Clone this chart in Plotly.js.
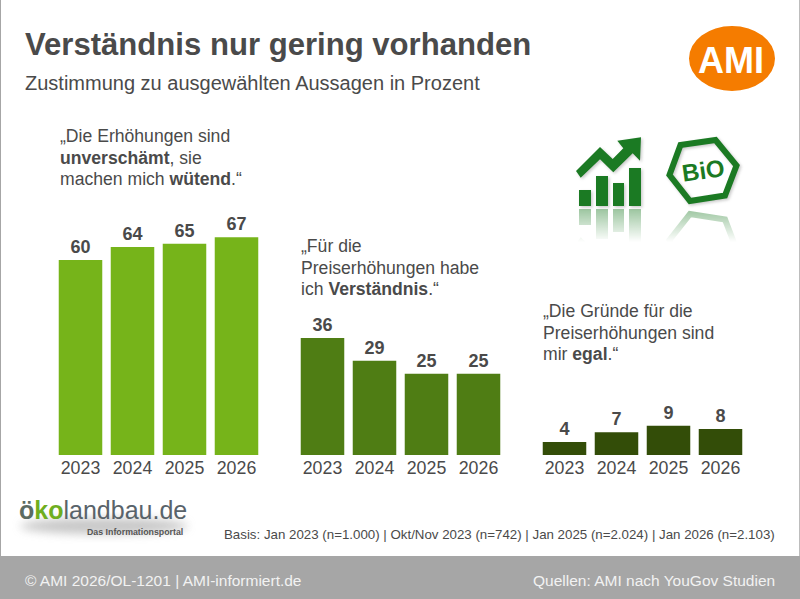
<!DOCTYPE html>
<html><head><meta charset="utf-8">
<script src="https://cdn.plot.ly/plotly-3.0.1.min.js"></script>
<style>html,body{margin:0;padding:0;background:#fff}#c{width:800px;height:599px}</style>
</head><body><div id="c"></div>
<script>
const years = ["2023","2024","2025","2026"];
const unverschaemt = [60,64,65,67];
const verstaendnis = [36,29,25,25];
const egal = [4,7,9,8];
const titleText = "Verständnis nur gering vorhanden";
const subtitleText = "Zustimmung zu ausgewählten Aussagen in Prozent";
const quote1 = ["„Die Erhöhungen sind","<b>unverschämt</b>, sie","machen mich <b>wütend</b>.“"];
const quote2 = ["„Für die","Preiserhöhungen habe","ich <b>Verständnis</b>.“"];
const quote3 = ["„Die Gründe für die","Preiserhöhungen sind","mir <b>egal</b>.“"];
const basisText = "Basis: Jan 2023 (n=1.000) | Okt/Nov 2023 (n=742) | Jan 2025 (n=2.024) | Jan 2026 (n=2.103)";
const footerLeft = "© AMI 2026/OL-1201 | AMI-informiert.de";
const footerRight = "Quellen: AMI nach YouGov Studien";

const W=800,H=599,F="Liberation Sans, Arial, sans-serif",INK="#4a4a4a";
const px=x=>x/W, py=y=>1-y/H;
const baseY=455, plotTop=200, perUnit=3.25;

function bars(vals,color,xa){return {type:"bar",x:years,y:vals,xaxis:xa,yaxis:"y",
  marker:{color:color,line:{width:0}},text:vals.map(String),textposition:"outside",cliponaxis:false,
  textfont:{family:F,size:18,color:INK,weight:700},hoverinfo:"x+y",showlegend:false};}
function xax(l,r){return {domain:[px(l),px(r)],anchor:"y",type:"category",showgrid:false,zeroline:false,
  showline:false,ticks:"",tickfont:{family:F,size:17.8,color:INK},automargin:false};}
function note(text,x,y,size,opt){return Object.assign({text:text,xref:"paper",yref:"paper",x:px(x),y:py(y),
  xanchor:"left",yanchor:"middle",align:"left",showarrow:false,font:{family:F,size:size,color:INK}},opt||{});}
function quote(lines,x,y){return lines.map((t,i)=>note(t,x,y+i*21.5,17.6));}

const iconBars='<path d="M579 190h12v16h-12zM596 176h12v30h-12zM613 183h11v23h-11zM629 168h12v38h-12z"/>'+
 '<path d="M576 171L600 147L612.7 159L623.3 148.3L617.3 140.7L641 137.3L640 160.7L632.7 153.3L613.3 172.3L600 159.3L580.7 177.7Z"/>'+
 '<path fill="none" stroke="#1b7a23" stroke-width="6" d="M680.5 145L715.5 140L736.5 165.5L725 195.5L690 201L669.5 175Z"/>';
const svg='<svg xmlns="http://www.w3.org/2000/svg" width="800" height="599" viewBox="0 0 800 599">'+
 '<defs><filter id="b" x="-30%" y="-30%" width="160%" height="160%"><feGaussianBlur stdDeviation="1.5"/></filter>'+
 '<filter id="b2" x="-30%" y="-100%" width="160%" height="300%"><feGaussianBlur stdDeviation="5"/></filter>'+
 '<linearGradient id="g" gradientUnits="userSpaceOnUse" x1="0" y1="210" x2="0" y2="242"><stop offset="0" stop-color="#fff" stop-opacity="0.42"/><stop offset="1" stop-color="#fff" stop-opacity="0"/></linearGradient>'+
 '<mask id="m"><rect x="540" y="208" width="260" height="40" fill="url(#g)"/></mask></defs>'+
 '<ellipse cx="104" cy="526" rx="84" ry="8" fill="#9a9a9a" opacity="0.55" filter="url(#b2)"/>'+
 '<g fill="#666" opacity="0.35" filter="url(#b)" transform="translate(1.5 1.5)">'+iconBars.replace('stroke="#1b7a23"','stroke="#666"')+'</g>'+
 '<g fill="#1b7a23">'+iconBars+'</g>'+
 '<g mask="url(#m)"><g fill="#1b7a23" transform="translate(0 415) scale(1 -1)">'+iconBars+'</g></g></svg>';

const layout={width:W,height:H,margin:{l:0,r:0,t:0,b:0},paper_bgcolor:"#fff",plot_bgcolor:"rgba(0,0,0,0)",
  bargap:0.163,showlegend:false,
  xaxis:xax(54.5,262.5),xaxis2:xax(296.5,504.5),xaxis3:xax(538.5,746.5),
  yaxis:{domain:[py(baseY),py(plotTop)],range:[0,(baseY-plotTop)/perUnit],visible:false,fixedrange:true},
  images:[{source:"data:image/svg+xml;utf8,"+encodeURIComponent(svg),xref:"paper",yref:"paper",x:0,y:1,sizex:1,sizey:1,
    xanchor:"left",yanchor:"top",sizing:"stretch",layer:"below"}],
  shapes:[
    {type:"rect",xref:"paper",yref:"paper",x0:0,x1:1,y0:0,y1:py(556),fillcolor:"#a6a6a6",line:{width:0},layer:"below"},
    {type:"rect",xref:"paper",yref:"paper",x0:0,x1:px(1),y0:py(556),y1:1,fillcolor:"#a6a6a6",line:{width:0},layer:"below"},
    {type:"rect",xref:"paper",yref:"paper",x0:px(799),x1:1,y0:py(556),y1:1,fillcolor:"#bdbdbd",line:{width:0},layer:"below"},
    {type:"circle",xref:"paper",yref:"paper",x0:px(689),x1:px(775),y0:py(91),y1:py(26),fillcolor:"#f57c00",line:{width:0},layer:"below"}
  ],
  annotations:[
    note(titleText,23,44,31.1,{font:{family:F,size:31.1,color:INK,weight:700}}),
    note(subtitleText,23,83,20),
    ...quote(quote1,58,136),
    ...quote(quote2,299,246),
    ...quote(quote3,541,311),
    note(basisText,222,534,13.3),
    note(footerLeft,23,580,15.5,{font:{family:F,size:15.5,color:"#f2f2f2"}}),
    note(footerRight,777,580,15.5,{xanchor:"right",align:"right",font:{family:F,size:15.5,color:"#f2f2f2"}}),
    note("AMI",731,60,36,{xanchor:"center",align:"center",font:{family:F,size:36,color:"#fff",weight:700}}),
    note("BiO",703,171,24,{xanchor:"center",align:"center",textangle:-8,font:{family:F,size:24,color:"#1b7a23",weight:700}}),
    note('<span style="color:#5b6b62"><b>ö</b></span><span style="color:#6fae1f"><b>ko</b></span><span style="color:#59636a">landbau.de</span>',17,510,25),
    note("<b>Das Informationsportal</b>",85,531.5,8.8,{font:{family:F,size:8.8,color:"#555"}})
  ]};
Plotly.newPlot("c",[bars(unverschaemt,"#76b41a","x"),bars(verstaendnis,"#4f7d14","x2"),bars(egal,"#334d08","x3")],layout,{staticPlot:true,displayModeBar:false});
</script></body></html>
